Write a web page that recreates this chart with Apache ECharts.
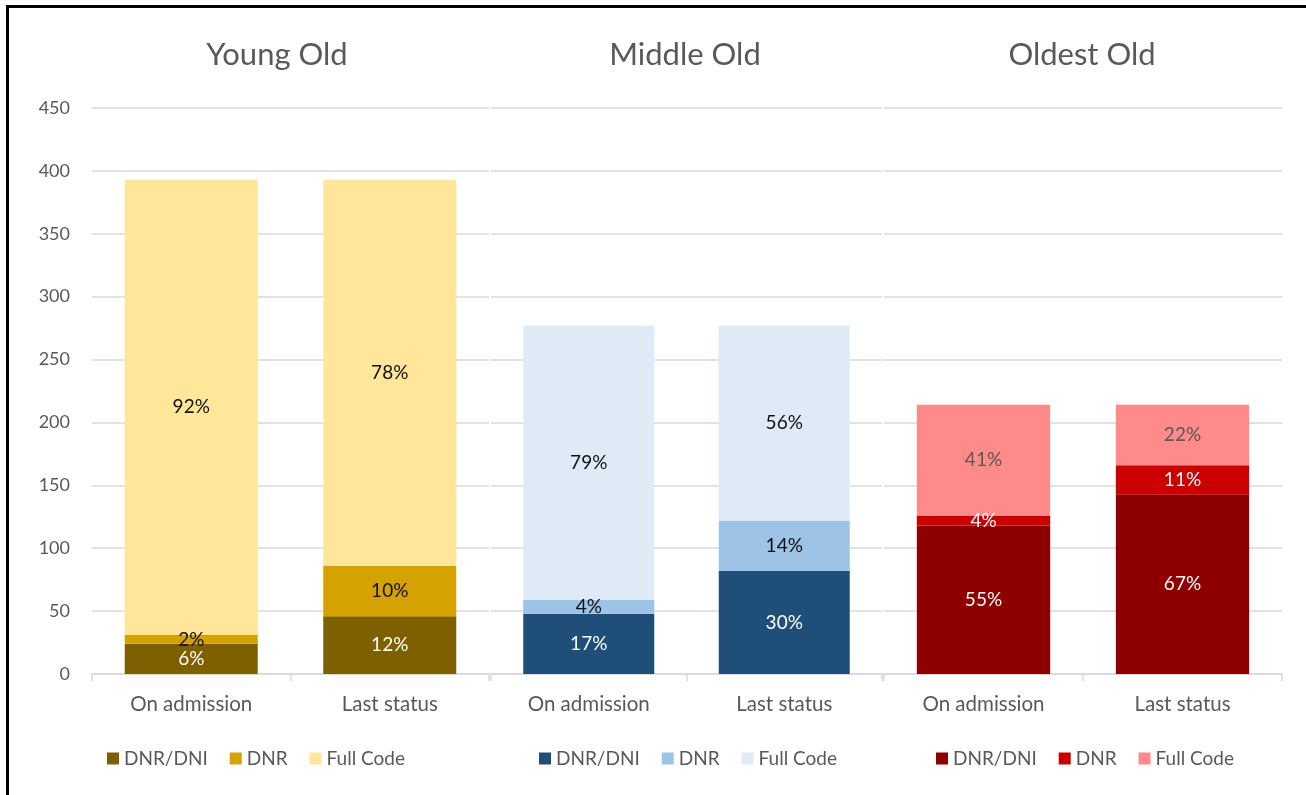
<!DOCTYPE html>
<html><head><meta charset="utf-8">
<script src="https://cdn.jsdelivr.net/npm/echarts@6/dist/echarts.min.js"></script>
<style>html,body{margin:0;padding:0;background:#fff}#c{width:1306px;height:795px}</style>
</head><body><div id="c"></div>
<script>
const categories = ['On admission', 'Last status'];
const groups = ['Young Old', 'Middle Old', 'Oldest Old'];
const statuses = ['DNR/DNI', 'DNR', 'Full Code'];
const yTicks = [0, 50, 100, 150, 200, 250, 300, 350, 400, 450];

const youngDnrDni = [24, 46];
const youngDnr = [7, 40];
const youngFull = [362, 307];
const middleDnrDni = [48, 82];
const middleDnr = [11, 40];
const middleFull = [218, 155];
const oldestDnrDni = [118, 143];
const oldestDnr = [8, 23];
const oldestFull = [88, 48];

const groupData = [
  [youngDnrDni, youngDnr, youngFull],
  [middleDnrDni, middleDnr, middleFull],
  [oldestDnrDni, oldestDnr, oldestFull]
];
const palettes = [
  ['#7F6000', '#D5A200', '#FFE699'],
  ['#1F4E79', '#9DC3E6', '#DEEBF7'],
  ['#8E0000', '#CC0000', '#FF8A8A']
];
const labelColors = [
  ['#ffffff', '#111111', '#111111'],
  ['#ffffff', '#111111', '#111111'],
  ['#ffffff', '#ffffff', '#595959']
];

const grids = [
  {left: 92, width: 397, top: 108, height: 566},
  {left: 491, width: 391, top: 108, height: 566},
  {left: 884, width: 398, top: 108, height: 566}
];
const titleX = [272, 680, 1077];
const legendX = [102, 534, 931];
const font = 'Lato, "Open Sans", sans-serif';

const xAxis = [], yAxis = [], series = [], titles = [], legends = [];
groups.forEach((g, gi) => {
  xAxis.push({
    type: 'category', gridIndex: gi, data: categories,
    axisLine: {lineStyle: {color: '#d9d9d9', width: 1.5}},
    axisTick: {show: true, length: 7, lineStyle: {color: '#d9d9d9', width: 1.5}},
    axisLabel: {color: '#595959', fontSize: 20.5, fontFamily: font, margin: 20}
  });
  yAxis.push({
    type: 'value', gridIndex: gi, min: 0, max: 450, interval: 50,
    axisLine: {show: false}, axisTick: {show: false},
    axisLabel: {show: gi === 0, color: '#595959', fontSize: 18, fontFamily: font, margin: 22,
      formatter: v => yTicks.includes(v) ? String(v) : ''},
    splitLine: {lineStyle: {color: '#d9d9d9', width: 1.5}}
  });
  const totals = categories.map((c, ci) => groupData[gi].reduce((s, arr) => s + arr[ci], 0));
  statuses.forEach((s, si) => {
    series.push({
      name: g + '|' + s, type: 'bar', stack: 'g' + gi,
      xAxisIndex: gi, yAxisIndex: gi,
      barCategoryGap: '33%',
      data: groupData[gi][si],
      itemStyle: {color: palettes[gi][si]},
      label: {
        show: true, position: 'inside', color: labelColors[gi][si],
        fontSize: 19, fontFamily: font,
        formatter: p => Math.round(p.value / totals[p.dataIndex] * 100) + '%'
      }
    });
  });
  titles.push({
    text: g, left: titleX[gi], top: 34, textAlign: 'center',
    textStyle: {color: '#595959', fontSize: 31, fontWeight: 'normal', fontFamily: font}
  });
  legends.push({
    data: statuses.map(s => g + '|' + s),
    formatter: n => n.split('|')[1],
    left: legendX[gi], top: 744,
    itemWidth: 12, itemHeight: 12, itemGap: 22, icon: 'rect',
    selectedMode: false,
    textStyle: {color: '#595959', fontSize: 19, fontFamily: font}
  });
});

const chart = echarts.init(document.getElementById('c'));
chart.setOption({
  backgroundColor: '#ffffff',
  animation: false,
  title: titles,
  legend: legends,
  grid: grids,
  xAxis: xAxis,
  yAxis: yAxis,
  series: series,
  graphic: [{
    type: 'rect', shape: {x: 7.5, y: 6.5, width: 1330, height: 820},
    style: {fill: 'none', stroke: '#000', lineWidth: 3}, silent: true, z: 100
  }]
});
</script></body></html>
